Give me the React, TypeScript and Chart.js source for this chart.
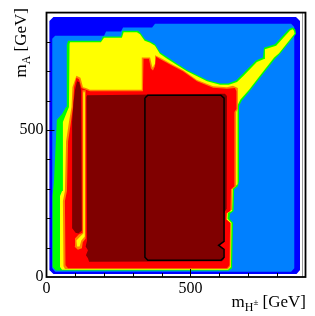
import React, { useEffect, useRef } from 'react';
import { Chart, registerables } from 'chart.js';

Chart.register(...registerables);

// ---- data (GeV) ----
const xTickValues = [100, 200, 300, 400, 500, 600, 700, 800];
const yTickValues = [100, 200, 300, 400, 500, 600, 700, 800];
const labeledTicks = [0, 500];

const darkBlueX = [10, 24, 867, 881, 881, 869, 24, 10];
const darkBlueY = [871, 885, 885, 871, 24, 10, 10, 24];

const lightBlueX = [20, 20, 30, 200, 207, 259, 266, 367, 377, 850, 861, 861, 850, 30];
const lightBlueY = [30, 811, 821, 821, 836, 836, 849, 849, 862, 862, 851, 30, 18, 18];

const greenX = [75, 189, 196, 259, 264, 318, 328, 342, 360, 377, 394, 419, 453, 488, 523, 558, 603, 631, 659, 678, 728, 752, 756, 794, 843, 855, 864, 867, 811, 794, 742, 707, 678, 669, 669, 665, 652, 650, 638, 636, 648, 645, 634, 33, 21, 21, 26, 30, 36, 54, 68, 71, 70];
const greenY = [804, 804, 819, 819, 838, 838, 829, 809, 802, 792, 765, 749, 727, 705, 688, 671, 659, 659, 669, 688, 737, 747, 780, 792, 844, 849, 843, 828, 759, 743, 678, 634, 600, 582, 326, 309, 299, 225, 215, 198, 185, 30, 22, 22, 34, 276, 326, 410, 535, 555, 579, 595, 790];

const yellowX = [82, 189, 200, 262, 268, 314, 325, 341, 360, 377, 394, 419, 453, 488, 523, 558, 603, 634, 662, 683, 731, 756, 759, 798, 846, 855, 860, 862, 808, 791, 738, 704, 674, 664, 664, 648, 645, 631, 629, 643, 641, 631, 54, 47, 47, 54, 57, 68, 78, 80];
const yellowY = [799, 799, 814, 814, 833, 833, 826, 804, 797, 787, 760, 743, 722, 700, 683, 666, 654, 654, 664, 683, 732, 742, 775, 787, 839, 843, 838, 828, 762, 747, 681, 637, 604, 585, 316, 303, 225, 219, 198, 185, 34, 25, 25, 34, 276, 293, 528, 555, 579, 794];

const orangeX = [104, 118, 127, 137, 151, 330, 331, 360, 367, 370, 374, 377, 394, 429, 474, 523, 579, 627, 648, 665, 665, 659, 659, 646, 645, 629, 627, 641, 639, 631, 64, 59, 57, 64, 68, 78, 87, 90];
const orangeY = [685, 678, 646, 643, 637, 637, 747, 747, 717, 712, 723, 755, 747, 728, 705, 671, 649, 646, 651, 643, 572, 562, 309, 299, 229, 222, 195, 183, 37, 27, 27, 37, 259, 293, 461, 528, 579, 646];

const redX = [104, 113, 122, 137, 151, 335, 337, 356, 363, 370, 377, 381, 394, 429, 474, 523, 579, 627, 655, 660, 660, 653, 653, 641, 639, 626, 624, 638, 636, 627, 75, 66, 64, 71, 75, 85, 92, 96];
const redY = [678, 673, 643, 637, 632, 632, 743, 743, 710, 703, 717, 750, 742, 723, 700, 666, 644, 641, 643, 632, 572, 562, 309, 299, 225, 217, 197, 185, 40, 30, 30, 40, 259, 293, 461, 528, 579, 646];

const darkRedX = [141, 620, 627, 626, 617, 617, 603, 617, 617, 610, 148, 144, 137, 144, 136, 141, 139];
const darkRedY = [619, 624, 616, 232, 219, 124, 108, 91, 61, 54, 52, 64, 74, 91, 104, 124, 612];

const darkRedColX = [106, 114, 120, 123, 122, 111, 101, 90, 89, 94, 99];
const darkRedColY = [666, 663, 636, 595, 158, 148, 151, 165, 528, 595, 636];

const stripOrangeX = [125, 136, 136, 126, 123, 109, 97, 99, 112, 125];
const stripOrangeY = [636, 636, 131, 118, 98, 93, 104, 131, 145, 151];

const stripYellowX = [128, 133, 133, 121, 115, 106, 104, 117, 128];
const stripYellowY = [629, 629, 138, 124, 104, 104, 124, 138, 148];

const boxX = [342, 352, 606, 617, 617, 598, 617, 617, 606, 352, 342, 342];
const boxY = [609, 619, 619, 609, 121, 108, 94, 67, 57, 57, 67, 609];

const FONT = "'Liberation Serif', 'Times New Roman', serif";

const layers = [
  { xs: darkBlueX, ys: darkBlueY, color: '#0000ff' },
  { xs: lightBlueX, ys: lightBlueY, color: '#0080ff' },
  { xs: greenX, ys: greenY, color: '#00ff00' },
  { xs: yellowX, ys: yellowY, color: '#ffff00' },
  { xs: orangeX, ys: orangeY, color: '#ff8000' },
  { xs: redX, ys: redY, color: '#ff0000' },
  { xs: darkRedX, ys: darkRedY, color: '#800000' },
  { xs: darkRedColX, ys: darkRedColY, color: '#800000' },
  { xs: stripOrangeX, ys: stripOrangeY, color: '#ff8000' },
  { xs: stripYellowX, ys: stripYellowY, color: '#ffff00' },
];

function toPoints(xs: number[], ys: number[]) {
  return xs.map((x, i) => ({ x, y: ys[i] }));
}

function drawParts(ctx: CanvasRenderingContext2D, parts: { t: string; s: number; dy: number }[], endX: number) {
  let total = 0;
  const widths = parts.map((p) => {
    ctx.font = `${p.s}px ${FONT}`;
    const w = ctx.measureText(p.t).width;
    total += w;
    return w;
  });
  let x = endX - total;
  parts.forEach((p, i) => {
    ctx.font = `${p.s}px ${FONT}`;
    ctx.fillText(p.t, x, p.dy);
    x += widths[i];
  });
}

const framePlugin = {
  id: 'framePlugin',
  afterDraw(chart: any) {
    const { ctx, chartArea: ca, scales } = chart;
    ctx.save();
    ctx.strokeStyle = '#9a9a9a';
    ctx.lineWidth = 1;
    ctx.beginPath();
    ctx.moveTo(ca.right - 3, ca.top);
    ctx.lineTo(ca.right - 3, ca.bottom);
    ctx.stroke();

    ctx.strokeStyle = '#000';
    ctx.lineWidth = 1.8;
    ctx.strokeRect(ca.left, ca.top, ca.right - ca.left, ca.bottom - ca.top);
    ctx.lineWidth = 1;
    ctx.beginPath();
    xTickValues.forEach((v) => {
      const px = Math.round(scales.x.getPixelForValue(v)) + 0.5;
      const len = v === 500 ? 8 : 4;
      ctx.moveTo(px, ca.bottom);
      ctx.lineTo(px, ca.bottom - len);
    });
    yTickValues.forEach((v) => {
      const py = Math.round(scales.y.getPixelForValue(v)) + 0.5;
      const len = v === 500 ? 8 : 4;
      ctx.moveTo(ca.left, py);
      ctx.lineTo(ca.left + len, py);
    });
    ctx.stroke();

    ctx.fillStyle = '#000';
    ctx.textBaseline = 'alphabetic';
    ctx.textAlign = 'left';
    ctx.save();
    ctx.translate(0, 307);
    drawParts(ctx, [
      { t: 'm', s: 17, dy: 0 },
      { t: 'H', s: 12, dy: 4 },
      { t: '±', s: 9, dy: -2 },
      { t: ' [GeV]', s: 17, dy: 0 },
    ], 306);
    ctx.restore();
    ctx.save();
    ctx.translate(26, 8);
    ctx.rotate(-Math.PI / 2);
    drawParts(ctx, [
      { t: 'm', s: 17, dy: 0 },
      { t: 'A', s: 12, dy: 4 },
      { t: ' [GeV]', s: 17, dy: 0 },
    ], 0);
    ctx.restore();
    ctx.restore();
  },
};

export default function App() {
  const ref = useRef<HTMLCanvasElement | null>(null);
  useEffect(() => {
    if (!ref.current) return;
    const n = layers.length;
    const datasets: any[] = layers.map((l, i) => ({
      data: toPoints(l.xs, l.ys),
      showLine: true,
      fill: 'shape',
      backgroundColor: l.color,
      borderColor: 'rgba(0,0,0,0)',
      borderWidth: 1,
      pointRadius: 0,
      tension: 0,
      order: n - i + 1,
    }));
    datasets.push({
      data: toPoints(boxX, boxY),
      showLine: true,
      fill: false,
      borderColor: '#000',
      borderWidth: 1.5,
      pointRadius: 0,
      tension: 0,
      order: 0,
    });
    const tickFont = { family: FONT, size: 16 };
    const chart = new Chart(ref.current, {
      type: 'scatter',
      data: { datasets },
      plugins: [framePlugin],
      options: {
        responsive: false,
        animation: false,
        events: [],
        layout: { autoPadding: false, padding: { top: 9.5, right: 9.5, left: 0, bottom: 0 } },
        plugins: { legend: { display: false }, tooltip: { enabled: false } },
        scales: {
          x: {
            type: 'linear',
            min: 0,
            max: 900,
            afterFit: (s: any) => { s.height = 39; },
            grid: { display: false, drawTicks: false },
            border: { display: false },
            ticks: {
              stepSize: 100,
              autoSkip: false,
              maxRotation: 0,
              padding: 2,
              color: '#000',
              font: tickFont,
              callback: (v: any) => (labeledTicks.includes(Number(v)) ? String(v) : ''),
            },
          },
          y: {
            type: 'linear',
            min: 0,
            max: 900,
            afterFit: (s: any) => { s.width = 46.5; },
            grid: { display: false, drawTicks: false },
            border: { display: false },
            ticks: {
              stepSize: 100,
              autoSkip: false,
              padding: 3,
              color: '#000',
              font: tickFont,
              callback: (v: any) => (labeledTicks.includes(Number(v)) ? String(v) : ''),
            },
          },
        },
      } as any,
    });
    return () => chart.destroy();
  }, []);
  return (
    <div style={{ position: 'fixed', left: 0, top: 0, width: 315, height: 316, background: '#fff' }}>
      <canvas ref={ref} width={315} height={316} style={{ width: 315, height: 316, display: 'block' }} />
    </div>
  );
}
